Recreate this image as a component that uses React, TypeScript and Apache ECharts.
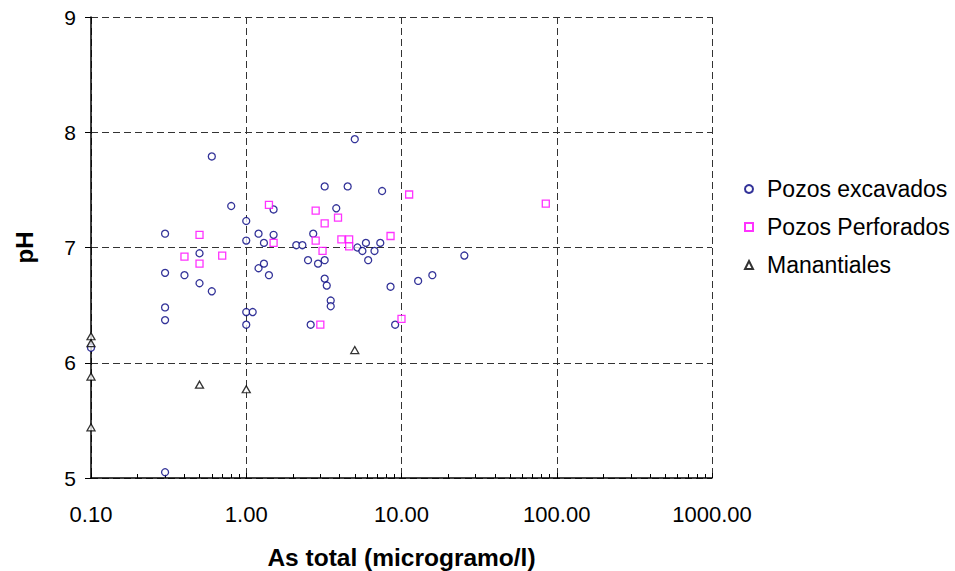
import React, { useEffect, useRef } from "react";
import * as echarts from "echarts";

const xTickLabels = ["0.10", "1.00", "10.00", "100.00", "1000.00"];
const yTicks = [5, 6, 7, 8, 9];

const excavados: [number, number][] = [
  [0.1, 6.13],
  [0.3, 7.12], [0.3, 6.78], [0.3, 6.48], [0.3, 6.37], [0.3, 5.05],
  [0.4, 6.76],
  [0.5, 6.95], [0.5, 6.69],
  [0.6, 7.79], [0.6, 6.62],
  [0.8, 7.36],
  [1.0, 7.23], [1.0, 7.06], [1.0, 6.44], [1.0, 6.33],
  [1.1, 6.44],
  [1.2, 7.12], [1.2, 6.82],
  [1.3, 7.04], [1.3, 6.86],
  [1.4, 6.76],
  [1.5, 7.33], [1.5, 7.11],
  [2.1, 7.02], [2.3, 7.02],
  [2.5, 6.89],
  [2.6, 6.33],
  [2.7, 7.12],
  [2.9, 6.86],
  [3.2, 6.89],
  [3.2, 7.53],
  [3.2, 6.73], [3.3, 6.67],
  [3.5, 6.54], [3.5, 6.49],
  [3.8, 7.34],
  [4.5, 7.53],
  [5.0, 7.94],
  [5.2, 7.0],
  [5.6, 6.97],
  [5.9, 7.04],
  [6.1, 6.89],
  [6.7, 6.97],
  [7.3, 7.04],
  [7.5, 7.49],
  [8.5, 6.66],
  [9.1, 6.33],
  [12.8, 6.71],
  [15.8, 6.76],
  [25.4, 6.93],
];

const perforados: [number, number][] = [
  [0.4, 6.92], [0.5, 7.11], [0.5, 6.86], [0.7, 6.93],
  [1.4, 7.37], [1.5, 7.04],
  [2.8, 7.32], [2.8, 7.06], [3.0, 6.33], [3.1, 6.97], [3.2, 7.21],
  [3.9, 7.26], [4.1, 7.07], [4.6, 7.07], [4.6, 7.01],
  [8.5, 7.1], [10.0, 6.38], [11.2, 7.46], [85, 7.38],
];

const manantiales: [number, number][] = [
  [0.1, 6.23], [0.1, 6.17], [0.1, 5.88], [0.1, 5.44],
  [0.5, 5.81], [1.0, 5.77], [5.0, 6.11],
];

const FONT = '"Liberation Sans", Arial, sans-serif';

export default function App() {
  const ref = useRef<HTMLDivElement>(null);
  useEffect(() => {
    if (!ref.current) return;
    const chart = echarts.init(ref.current, undefined, { renderer: "svg" });
    const gridLine = { show: true, lineStyle: { color: "#333", width: 1, type: [7, 4] as any } };
    chart.setOption({
      animation: false,
      backgroundColor: "#fff",
      textStyle: { fontFamily: FONT },
      grid: { left: 91, top: 17, width: 621, height: 461, containLabel: false, outerBoundsMode: "none" },
      legend: {
        orient: "vertical",
        left: 744,
        top: 176,
        padding: 0,
        itemWidth: 8,
        itemHeight: 8,
        itemGap: 12,
        textStyle: { fontSize: 23, color: "#000", fontFamily: FONT, lineHeight: 26, padding: [0, 0, 0, 9] },
        data: ["Pozos excavados", "Pozos Perforados", "Manantiales"],
      },
      xAxis: {
        type: "log",
        logBase: 10,
        min: 0.1,
        max: 1000,
        name: "As total (microgramo/l)",
        nameLocation: "middle",
        nameGap: 67,
        nameTextStyle: { fontSize: 24.5, fontWeight: "bold", color: "#000", fontFamily: FONT },
        axisLine: { lineStyle: { color: "#000", width: 1.5 } },
        axisTick: { inside: true, length: 5, lineStyle: { color: "#000" } },
        minorTick: { show: true, splitNumber: 9, length: 4, lineStyle: { color: "#000" } },
        axisLabel: {
          fontSize: 22,
          color: "#000",
          margin: 25,
          fontFamily: FONT,
          formatter: (v: number) => {
            const i = Math.round(Math.log10(v)) + 1;
            return xTickLabels[i] ?? v.toFixed(2);
          },
        },
        splitLine: gridLine,
      },
      yAxis: {
        type: "value",
        min: yTicks[0],
        max: yTicks[yTicks.length - 1],
        interval: 1,
        name: "pH",
        nameLocation: "middle",
        nameGap: 55,
        nameTextStyle: { fontSize: 24, fontWeight: "bold", color: "#000", fontFamily: FONT },
        axisLine: { show: true, lineStyle: { color: "#000", width: 1.5 } },
        axisTick: { show: true, inside: false, length: 6, lineStyle: { color: "#000" } },
        axisLabel: { fontSize: 21, color: "#000", margin: 15, fontFamily: FONT },
        splitLine: gridLine,
      },
      series: [
        {
          name: "Pozos excavados",
          type: "scatter",
          symbol: "circle",
          symbolSize: 7,
          itemStyle: { color: "#fff", borderColor: "#000080", borderWidth: 1.3 },
          data: excavados,
          z: 3,
        },
        {
          name: "Pozos Perforados",
          type: "scatter",
          symbol: "rect",
          symbolSize: 7,
          itemStyle: { color: "#fff", borderColor: "#FF00FF", borderWidth: 1.3 },
          data: perforados,
          z: 4,
        },
        {
          name: "Manantiales",
          type: "scatter",
          symbol: "triangle",
          symbolSize: [8, 7],
          itemStyle: { color: "#fff", borderColor: "#000", borderWidth: 1.3 },
          data: manantiales,
          z: 5,
        },
      ],
    });
    return () => chart.dispose();
  }, []);
  return (
    <div
      ref={ref}
      style={{ position: "fixed", left: 0, top: 0, width: 955, height: 571 }}
    />
  );
}
